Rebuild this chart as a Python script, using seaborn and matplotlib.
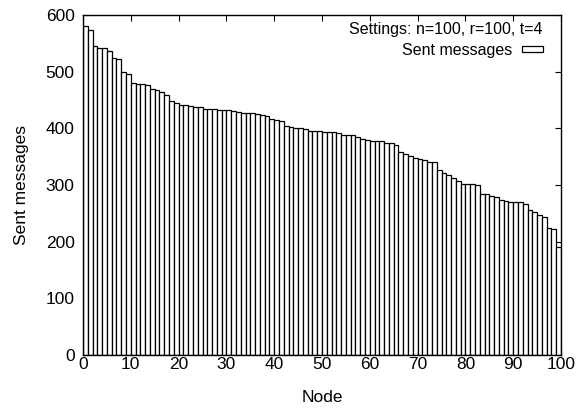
import numpy as np
import pandas as pd
import matplotlib
matplotlib.use("Agg")
import matplotlib.pyplot as plt
from matplotlib.patches import Patch
import seaborn as sns

# -------- DATOS --------
nodos = list(range(100))
mensajes = [
    581, 573, 545, 542, 541, 536, 524, 522, 500, 496,
    480, 478, 478, 476, 470, 467, 465, 459, 449, 445,
    442, 441, 439, 438, 437, 435, 435, 434, 432, 432,
    432, 430, 429, 427, 427, 427, 425, 423, 422, 416,
    414, 413, 404, 402, 400, 400, 398, 395, 395, 395,
    394, 393, 393, 391, 389, 388, 388, 385, 382, 379,
    378, 378, 377, 375, 374, 371, 358, 354, 352, 347,
    346, 345, 341, 340, 326, 322, 318, 313, 307, 302,
    302, 302, 300, 285, 284, 281, 278, 274, 271, 270,
    270, 270, 266, 256, 253, 247, 243, 225, 222, 190,
]
xticks = list(range(0, 101, 10))
yticks = list(range(0, 601, 100))
titulo_leyenda = "Settings: n=100, r=100, t=4"
etiqueta = "Sent messages"

df = pd.DataFrame({"Node": nodos, "Sent": mensajes})

# -------- ESTILO --------
sns.set_style("ticks")
plt.rcParams["font.family"] = ["Liberation Sans", "DejaVu Sans"]
plt.rcParams["text.color"] = "black"
plt.rcParams["axes.labelcolor"] = "black"
plt.rcParams["xtick.color"] = "black"
plt.rcParams["ytick.color"] = "black"
plt.rcParams["xtick.direction"] = "in"
plt.rcParams["ytick.direction"] = "in"

fig = plt.figure(figsize=(5.76, 4.08), dpi=100)
ax = fig.add_axes([83 / 576, 1 - 355 / 408, (561 - 83) / 576, (355 - 15) / 408])

# -------- BARRAS --------
sns.barplot(data=df, x="Node", y="Sent", color="white", edgecolor="black",
            linewidth=0.9, width=1.0, saturation=1, ax=ax)

ax.set_xlim(-0.5, 99.5)
ax.set_ylim(0, 600)
ax.set_xticks([t - 0.5 for t in xticks])
ax.set_xticklabels([str(t) for t in xticks])
ax.set_yticks(yticks)
ax.tick_params(axis="both", labelsize=12.5, length=4, width=0.8,
               top=True, right=True)
ax.tick_params(axis="x", pad=1.5)
ax.tick_params(axis="y", pad=6)
for s in ax.spines.values():
    s.set_visible(True)
    s.set_color("black")
    s.set_linewidth(1.0)

ax.set_xlabel("Node", fontsize=12.5, labelpad=13)
ax.set_ylabel("Sent messages", fontsize=12.5, labelpad=12)

# -------- LEYENDA --------
mano = Patch(facecolor="white", edgecolor="black", linewidth=0.9, label=etiqueta)
ley = ax.legend(handles=[mano], title=titulo_leyenda, loc="upper right",
                frameon=False, markerfirst=False, alignment="right",
                fontsize=11.5, title_fontsize=11.5, handlelength=1.3,
                handleheight=0.25, borderaxespad=0.0, borderpad=0.1,
                labelspacing=0.1, handletextpad=0.6,
                bbox_to_anchor=(0.965, 0.984))
ley._legend_box.sep = 4

fig.savefig("out.png", dpi=100)
